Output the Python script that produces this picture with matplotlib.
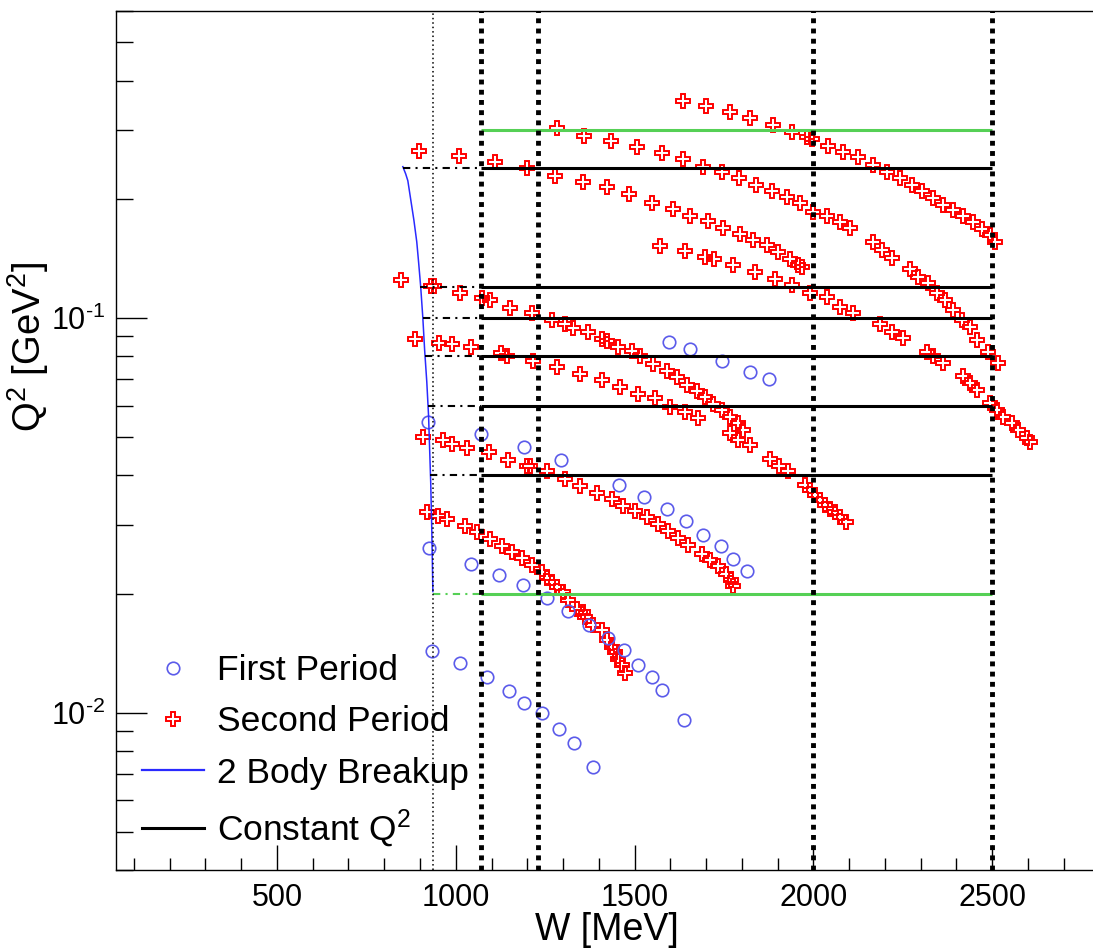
import numpy as np
import matplotlib.pyplot as plt
from matplotlib.lines import Line2D
from matplotlib.ticker import MultipleLocator, FixedLocator, LogLocator, NullFormatter

plt.rcParams['font.family'] = 'Liberation Sans'
plt.rcParams['mathtext.fontset'] = 'custom'
plt.rcParams['mathtext.rm'] = 'Liberation Sans'
plt.rcParams['mathtext.it'] = 'Liberation Sans:italic'
plt.rcParams['mathtext.bf'] = 'Liberation Sans:bold'

# First period (blue circles), W [MeV] and Q^2 [GeV^2]
first_w = [1596, 1655, 1744, 1822, 1876,
           922, 1070, 1190, 1294, 1456, 1526, 1590, 1643, 1691, 1741, 1775, 1814,
           925, 1042, 1120, 1187, 1255, 1313, 1372, 1425, 1470, 1509, 1548, 1576, 1638,
           933, 1011, 1087, 1148, 1190, 1241, 1288, 1330, 1383]
first_q2 = [0.0868, 0.0836, 0.0778, 0.0729, 0.0702,
            0.0547, 0.0510, 0.0473, 0.0436, 0.0379, 0.0353, 0.0329, 0.0307, 0.0283, 0.0264, 0.0246, 0.0229,
            0.0261, 0.0239, 0.0224, 0.0211, 0.0195, 0.0181, 0.0167, 0.0155, 0.0144, 0.0132, 0.0123, 0.0114, 0.0096,
            0.01435, 0.0134, 0.0123, 0.01137, 0.0106, 0.0100, 0.0091, 0.0084, 0.0073]

# Second period (red crosses), grouped by band
band1_w = [1635, 1699, 1766, 1822, 1887, 1940, 1982, 1996, 2040, 2082, 2124, 2166,
           2205, 2242, 2275, 2303, 2334, 2362, 2390, 2418, 2446, 2471, 2494, 2508]
band1_q2 = [0.354, 0.344, 0.332, 0.321, 0.308, 0.296, 0.287, 0.284, 0.273, 0.263, 0.256, 0.244,
            0.234, 0.227, 0.218, 0.210, 0.202, 0.194, 0.188, 0.181, 0.175, 0.168, 0.162, 0.156]

band2_w = [1283, 1358, 1434, 1506, 1576, 1635, 1691, 1744, 1792, 1839, 1884, 1926, 1962,
           1999, 2037, 2074, 2102, 2166, 2192, 2219, 2270, 2292, 2320, 2345, 2368, 2390,
           2415, 2438, 2457, 2488, 2516]
band2_q2 = [0.303, 0.289, 0.281, 0.271, 0.262, 0.253, 0.242, 0.234, 0.227, 0.218, 0.210, 0.203, 0.196,
            0.186, 0.181, 0.175, 0.169, 0.156, 0.149, 0.142, 0.133, 0.127, 0.123, 0.116, 0.111, 0.105,
            0.099, 0.095, 0.088, 0.082, 0.077]

band3_w = [897, 1008, 1109, 1198, 1277, 1355, 1422, 1484, 1548, 1607, 1655, 1705, 1747,
           1794, 1831, 1870, 1901, 1934, 1957, 1968]
band3_q2 = [0.265, 0.258, 0.249, 0.240, 0.229, 0.221, 0.215, 0.206, 0.196, 0.189, 0.182, 0.176, 0.169,
            0.163, 0.158, 0.153, 0.147, 0.141, 0.136, 0.135]

band4_w = [1571, 1641, 1696, 1722, 1775, 1836, 1892, 1940, 1990, 2038, 2074, 2110, 2186, 2219,
           2250, 2317, 2334, 2362, 2418, 2438, 2457, 2494, 2513, 2530, 2555, 2572, 2597, 2606]
band4_q2 = [0.152, 0.148, 0.143, 0.141, 0.136, 0.131, 0.126, 0.121, 0.116, 0.113, 0.107, 0.103, 0.0964, 0.0925,
            0.0893, 0.0823, 0.0800, 0.0772, 0.0712, 0.0687, 0.0659, 0.0611, 0.0586, 0.0563, 0.0544, 0.0522, 0.0498, 0.0487]

band5_w = [846, 930, 938, 1011, 1073, 1095, 1151, 1213, 1269, 1305, 1327, 1369, 1408, 1422,
           1453, 1492, 1515, 1551, 1590, 1618, 1646, 1674, 1696, 1719, 1744, 1766, 1789, 1803]
band5_q2 = [0.125, 0.1203, 0.1203, 0.1157, 0.1128, 0.1109, 0.1064, 0.1033, 0.0992, 0.0964, 0.0942, 0.092, 0.0888, 0.0873,
            0.0847, 0.0827, 0.0804, 0.0767, 0.0736, 0.0711, 0.0678, 0.0654, 0.0632, 0.0607, 0.0586, 0.0563, 0.0541, 0.0522]

band6_w = [885, 952, 989, 1042, 1126, 1143, 1215, 1282, 1347, 1408, 1459, 1509, 1557, 1599,
           1641, 1677, 1766, 1789, 1822, 1878, 1903, 1929, 1976, 1990, 2004, 2018, 2032, 2046,
           2060, 2074, 2091]
band6_q2 = [0.0888, 0.0867, 0.0862, 0.0847, 0.0816, 0.0804, 0.0777, 0.0750, 0.0720, 0.0699, 0.0671, 0.0644, 0.0626, 0.0597,
            0.0577, 0.0560, 0.0513, 0.0492, 0.0476, 0.0441, 0.0423, 0.0409, 0.0379, 0.0368, 0.0357, 0.0347, 0.0337, 0.0329,
            0.0322, 0.0314, 0.0305]

band7_w = [908, 964, 989, 1031, 1092, 1145, 1199, 1207, 1255, 1305, 1347, 1394, 1436, 1467,
           1501, 1534, 1565, 1593, 1621, 1649, 1688, 1710, 1733, 1755, 1769, 1775]
band7_q2 = [0.0501, 0.0490, 0.0481, 0.0470, 0.0459, 0.0438, 0.0423, 0.0421, 0.0411, 0.0392, 0.0376, 0.0361, 0.0349, 0.0335,
            0.0325, 0.0314, 0.0301, 0.0289, 0.0278, 0.0267, 0.0252, 0.0244, 0.0236, 0.0225, 0.0217, 0.0210]

band8_w = [919, 950, 975, 1025, 1059, 1095, 1129, 1157, 1185, 1213, 1241, 1255, 1269, 1283,
           1299, 1313, 1338, 1355, 1361, 1383, 1408, 1422, 1436, 1445, 1453, 1464, 1473]
band8_q2 = [0.0323, 0.0316, 0.0310, 0.0298, 0.0288, 0.0275, 0.0265, 0.0256, 0.0247, 0.0237, 0.0227, 0.0220, 0.0215, 0.0209,
            0.0203, 0.0193, 0.0183, 0.0180, 0.0175, 0.0167, 0.0162, 0.0153, 0.0147, 0.0143, 0.0137, 0.0132, 0.0126]

# 2 body breakup line
breakup_w = [852, 860, 866, 874, 883, 891, 896, 902, 908, 913, 919, 924, 927, 930, 933, 936]
breakup_q2 = [0.242, 0.232, 0.223, 0.200, 0.177, 0.156, 0.139, 0.120, 0.100, 0.083, 0.069,
              0.0565, 0.0465, 0.0383, 0.0291, 0.0203]

# constant Q^2 lines and where their dash-dot part starts
const_q2 = [0.02, 0.04, 0.06, 0.08, 0.10, 0.12, 0.24, 0.30]
const_start_w = [936, 929, 922, 915, 908, 900, 852, None]
const_colors = ['#55d055', 'black', 'black', 'black', 'black', 'black', 'black', '#55d055']

# vertical reference lines (W)
w_thin = 935
w_thick = [1070, 1230, 2000, 2500]

ytick_vals = [0.01, 0.1]
ytick_text = [r'$10^{\text{-2}}$', r'$10^{\text{-1}}$']

blue_pts = '#5b5bea'
blue_line = '#2a2aff'
red = '#ff0000'

fig = plt.figure(figsize=(10.93, 9.49), dpi=100)
ax = fig.add_axes([116 / 1093, 1 - 870 / 949, (1099.5 - 116) / 1093, (870 - 11) / 949])
ax.set_yscale('log')

cross = dict(ls='none', marker='P', mfc='none', mec=red, ms=10.5, mew=1.4, zorder=2)
for bw, bq in [(band1_w, band1_q2), (band2_w, band2_q2), (band3_w, band3_q2), (band4_w, band4_q2),
               (band5_w, band5_q2), (band6_w, band6_q2), (band7_w, band7_q2), (band8_w, band8_q2)]:
    ax.plot(bw, bq, **cross)
ax.plot(first_w, first_q2, ls='none', marker='o', mfc='none', mec=blue_pts, ms=9, mew=1.2, zorder=2)

ax.plot(breakup_w, breakup_q2, color=blue_line, lw=1.1, zorder=3)

w_start = w_thick[0]
w_end = w_thick[-1]
for q, s, c in zip(const_q2, const_start_w, const_colors):
    if s is not None:
        ax.plot([s, w_start], [q, q], color=c, lw=1.5, ls=(0, (3.5, 2.5, 1, 2.5)), zorder=3)
    ax.plot([w_start, w_end], [q, q], color=c, lw=2.2, solid_capstyle='butt', zorder=3)

ax.axvline(w_thin, color='black', lw=1.1, ls=(0, (1, 1.9)), zorder=4)
for w in w_thick:
    ax.axvline(w, color='black', lw=3.5, ls=(0, (1, 1.1)), zorder=4)

ax.set_xlim(50, 2800)
ax.set_ylim(0.004, 0.6)

ax.set_xticks([500, 1000, 1500, 2000, 2500])
ax.xaxis.set_minor_locator(MultipleLocator(100))
ax.yaxis.set_major_locator(FixedLocator(ytick_vals))
ax.set_yticklabels(ytick_text)
ax.yaxis.set_minor_locator(LogLocator(base=10, subs=np.arange(2, 10)))
ax.yaxis.set_minor_formatter(NullFormatter())

ax.spines['right'].set_visible(False)
for sp in ['left', 'top', 'bottom']:
    ax.spines[sp].set_linewidth(1.0)
ax.tick_params(axis='both', which='both', direction='in', top=False, right=False, width=1)
ax.tick_params(axis='y', which='major', length=22, pad=8, labelsize=22)
ax.tick_params(axis='y', which='minor', length=12)
ax.tick_params(axis='x', which='major', length=18, pad=9, labelsize=22)
ax.tick_params(axis='x', which='minor', length=9)

ax.set_xlabel('W [MeV]', fontsize=27)
ax.xaxis.label.set_va('center')
ax.xaxis.set_label_coords(0.499, -0.0698)
ax.set_ylabel('Q$^{2}$ [GeV$^{2}$]', fontsize=27.5)
ax.yaxis.label.set_va('center')
ax.yaxis.label.set_ha('center')
ax.yaxis.set_label_coords(-0.0895, 0.609)

handles = [
    Line2D([], [], ls='none', marker='o', mfc='none', mec=blue_pts, ms=9, mew=1.2),
    Line2D([], [], ls='none', marker='P', mfc='none', mec=red, ms=10.5, mew=1.4),
    Line2D([], [], color=blue_line, lw=1.6),
    Line2D([], [], color='black', lw=2.2),
]
labels = ['First Period', 'Second Period', '2 Body Breakup', 'Constant Q$^{2}$']
ax.legend(handles, labels, loc='upper left', bbox_to_anchor=(142 / 1093, 1 - 654 / 949),
          bbox_transform=fig.transFigure, frameon=False, fontsize=25.5, handlelength=1.75,
          handletextpad=0.36, labelspacing=0.52, borderpad=0, borderaxespad=0)

fig.savefig('out.png', dpi=100)
